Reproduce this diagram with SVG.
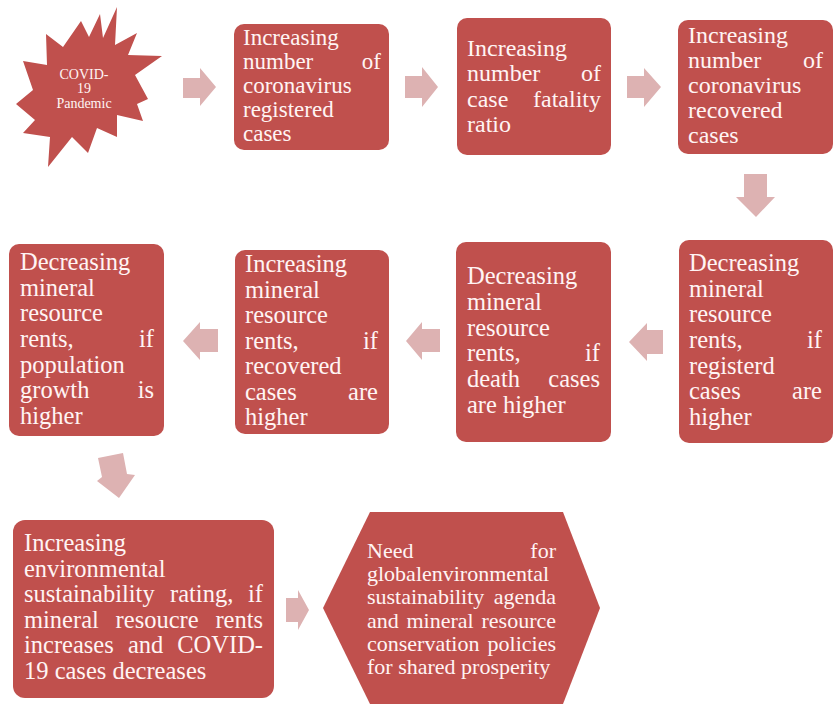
<svg xmlns="http://www.w3.org/2000/svg" width="835" height="705" viewBox="0 0 835 705">
<style>
.box{fill:#C0504D}
.arr{fill:#DDB2B2}
text{font-family:"Liberation Serif","Times New Roman",serif;fill:#FFF4F4}
.t23{font-size:23px}
.t24{font-size:24px}
.t245{font-size:24.5px}
.t22{font-size:22px}
.t14{font-size:14px}
.e{text-anchor:end}
.m{text-anchor:middle}
</style>
<rect width="835" height="705" fill="#ffffff"/>
<g id="connectors">
<polygon class="arr" points="183,78 200,78 200,68 216,87 200,106 200,98 183,98"/>
<polygon class="arr" points="405,76 422,76 422,67 438,87 422,107 422,98 405,98"/>
<polygon class="arr" points="627,76 644,76 644,68 661,87 644,107 644,98 627,98"/>
<polygon class="arr" points="744,174 767,174 767,197 775,197 756,217 736,197 744,197"/>
<polygon class="arr" points="663,330 647,330 647,323 629,342 647,361 647,354 663,354"/>
<polygon class="arr" points="440,329 422,329 422,322 406,341 422,360 422,352 440,352"/>
<polygon class="arr" points="218,329 200,329 200,322 183,341 200,360 200,352 218,352"/>
<polygon class="arr" points="98,458 123,453 127,474 135,475 119,498 97,481 102,477"/>
<polygon class="arr" points="286,598 298,598 298,590 309,610 298,630 298,622 286,622"/>
</g>
<g id="covid">
<polygon class="box" points="117,7 115,45 137,33 128,55 162,56 135,75 148,99 137,104 143,121 117,115 117,137 97,128 88,153 72,137 48,167 50,137 23,133 35,120 16,104 33,90 23,61 47,65 46,34 63,47 81,21 89,37 100,14 103,38"/>
<text class="t14 m" x="84" y="79">COVID-</text>
<text class="t14 m" x="84" y="93">19</text>
<text class="t14 m" x="84" y="108">Pandemic</text>
</g>
<g id="n1">
<rect class="box" x="234" y="24" width="155" height="126" rx="10"/>
<text class="t23" x="243" y="45">Increasing</text>
<text class="t23" x="243" y="69">number</text><text class="t23 e" x="381" y="69">of</text>
<text class="t23" x="243" y="93">coronavirus</text>
<text class="t23" x="243" y="117">registered</text>
<text class="t23" x="243" y="141">cases</text>
</g>
<g id="n2">
<rect class="box" x="457" y="18" width="154" height="137" rx="10"/>
<text class="t24" x="467" y="56">Increasing</text>
<text class="t24" x="467" y="81">number</text><text class="t24 e" x="601" y="81">of</text>
<text class="t24" x="467" y="107">case</text><text class="t24 e" x="601" y="107">fatality</text>
<text class="t24" x="467" y="132">ratio</text>
</g>
<g id="n3">
<rect class="box" x="678" y="20" width="155" height="134" rx="10"/>
<text class="t24" x="688" y="43">Increasing</text>
<text class="t24" x="688" y="68">number</text><text class="t24 e" x="823" y="68">of</text>
<text class="t24" x="688" y="93">coronavirus</text>
<text class="t24" x="688" y="118">recovered</text>
<text class="t24" x="688" y="143">cases</text>
</g>
<g id="n4">
<rect class="box" x="679" y="240" width="154" height="203" rx="10"/>
<text class="t245" x="689" y="271">Decreasing</text>
<text class="t245" x="689" y="296.5">mineral</text>
<text class="t245" x="689" y="322">resource</text>
<text class="t245" x="689" y="348">rents,</text><text class="t245 e" x="822" y="348">if</text>
<text class="t245" x="689" y="373.5">registerd</text>
<text class="t245" x="689" y="399">cases</text><text class="t245 e" x="822" y="399">are</text>
<text class="t245" x="689" y="425">higher</text>
</g>
<g id="n5">
<rect class="box" x="456" y="242" width="155" height="200" rx="10"/>
<text class="t245" x="467" y="284">Decreasing</text>
<text class="t245" x="467" y="310">mineral</text>
<text class="t245" x="467" y="336">resource</text>
<text class="t245" x="467" y="361">rents,</text><text class="t245 e" x="600" y="361">if</text>
<text class="t245" x="467" y="387">death</text><text class="t245 e" x="600" y="387">cases</text>
<text class="t245" x="467" y="413">are higher</text>
</g>
<g id="n6">
<rect class="box" x="235" y="250" width="154" height="184" rx="10"/>
<text class="t245" x="245" y="272">Increasing</text>
<text class="t245" x="245" y="297.5">mineral</text>
<text class="t245" x="245" y="323">resource</text>
<text class="t245" x="245" y="348.5">rents,</text><text class="t245 e" x="378" y="348.5">if</text>
<text class="t245" x="245" y="374">recovered</text>
<text class="t245" x="245" y="399.5">cases</text><text class="t245 e" x="378" y="399.5">are</text>
<text class="t245" x="245" y="425">higher</text>
</g>
<g id="n7">
<rect class="box" x="9" y="244" width="155" height="192" rx="10"/>
<text class="t245" x="20" y="270">Decreasing</text>
<text class="t245" x="20" y="295.5">mineral</text>
<text class="t245" x="20" y="321">resource</text>
<text class="t245" x="20" y="347">rents,</text><text class="t245 e" x="154" y="347">if</text>
<text class="t245" x="20" y="372.5">population</text>
<text class="t245" x="20" y="398">growth</text><text class="t245 e" x="154" y="398">is</text>
<text class="t245" x="20" y="424">higher</text>
</g>
<g id="n8">
<rect class="box" x="13" y="520" width="261" height="178" rx="12"/>
<text class="t245" x="24" y="551">Increasing</text>
<text class="t245" x="24" y="577">environmental</text>
<text class="t245" x="24" y="602">sustainability</text><text class="t245" x="170" y="602">rating,</text><text class="t245 e" x="263" y="602">if</text>
<text class="t245" x="24" y="628">mineral</text><text class="t245" x="115.6" y="628">resoucre</text><text class="t245 e" x="263" y="628">rents</text>
<text class="t245" x="24" y="653">increases</text><text class="t245" x="128" y="653">and</text><text class="t245 e" x="263" y="653">COVID-</text>
<text class="t245" x="24" y="679">19 cases decreases</text>
</g>
<g id="n9">
<polygon class="box" points="323,608 370,512 563,512 600,608 563,704 370,704"/>
<text class="t22" x="367" y="558">Need</text><text class="t22 e" x="556" y="558">for</text>
<text class="t22" x="367" y="581">globalenvironmental</text>
<text class="t22" x="367" y="604">sustainability</text><text class="t22 e" x="556" y="604">agenda</text>
<text class="t22" x="367" y="628">and</text><text class="t22" x="406.5" y="628">mineral</text><text class="t22 e" x="556" y="628">resource</text>
<text class="t22" x="367" y="651">conservation</text><text class="t22 e" x="556" y="651">policies</text>
<text class="t22" x="367" y="674">for shared prosperity</text>
</g>
</svg>
